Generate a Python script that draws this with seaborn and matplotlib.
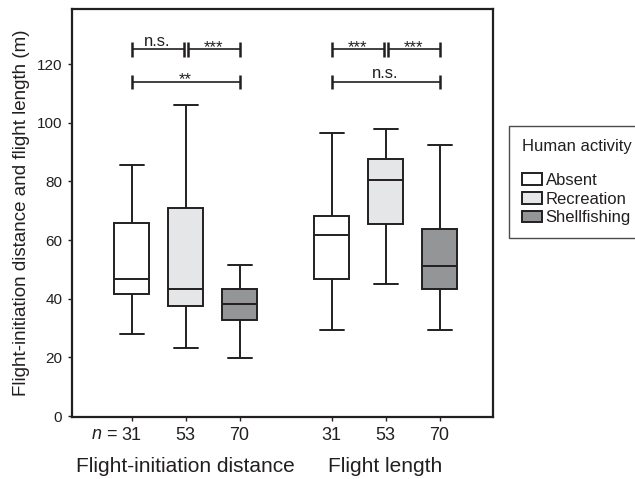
import numpy as np
import pandas as pd
import seaborn as sns
import matplotlib.pyplot as plt

# ---- data ----
measures = ['Flight-initiation distance', 'Flight length']
activities = ['Absent', 'Recreation', 'Shellfishing']
sample_sizes = [31, 53, 70]

# five-number summaries: whisker low, Q1, median, Q3, whisker high
fid_absent = [28.1, 41.8, 46.7, 65.9, 85.6]
fid_recreation = [23.3, 37.5, 43.4, 71.0, 106.0]
fid_shellfishing = [19.9, 32.7, 38.3, 43.3, 51.5]
fl_absent = [29.3, 46.8, 61.7, 68.2, 96.4]
fl_recreation = [45.1, 65.6, 80.5, 87.7, 98.0]
fl_shellfishing = [29.3, 43.4, 51.1, 63.9, 92.5]

# significance labels: (Absent-Recreation, Recreation-Shellfishing, Absent-Shellfishing)
fid_sig = ['n.s.', '***', '**']
fl_sig = ['***', '***', 'n.s.']
sig_rows = [125.0, 114.0]

summaries = [[fid_absent, fid_recreation, fid_shellfishing],
             [fl_absent, fl_recreation, fl_shellfishing]]
rows = []
for measure, groups in zip(measures, summaries):
    for activity, vals in zip(activities, groups):
        for v in vals:
            rows.append({'measure': measure, 'activity': activity, 'value': v})
df = pd.DataFrame(rows)

# ---- style ----
sns.set_style('ticks')
plt.rcParams['font.family'] = ['Liberation Sans', 'DejaVu Sans']
plt.rcParams['mathtext.fontset'] = 'custom'
plt.rcParams['mathtext.it'] = 'Liberation Sans:italic'
plt.rcParams['mathtext.rm'] = 'Liberation Sans'
dark = '#231f20'
plt.rcParams['text.color'] = dark
palette = {'Absent': '#ffffff', 'Recreation': '#e5e6e8', 'Shellfishing': '#939598'}

fig = plt.figure(figsize=(6.35, 4.79), dpi=100)
ax = fig.add_axes([0.1134, 0.1294, 0.663, 0.8518])

group_width = 0.81
sns.boxplot(data=df, x='measure', y='value', hue='activity',
            order=measures, hue_order=activities, palette=palette,
            width=group_width, gap=0.36, whis=(0, 100),
            linecolor=dark, linewidth=1.4, capwidths=0.12, ax=ax)

# box positions (category centre + dodge offset)
offsets = (np.arange(len(activities)) - 1) * group_width / len(activities)
positions = [c + o for c in range(len(measures)) for o in offsets]

ax.set_xlim(-0.5675, 1.5375)
ax.set_ylim(-0.3, 138.8)
ax.set_yticks(np.arange(0, 121, 20))
ax.set_xticks(positions)
ax.set_xticklabels([str(n) for n in sample_sizes] * 2, fontsize=13)
ax.tick_params(axis='y', labelsize=11)
ax.tick_params(direction='out', length=3, width=1, color=dark, labelcolor=dark, pad=4)
ax.set_xlabel('')
ax.set_ylabel('Flight-initiation distance and flight length (m)', fontsize=13.5, color=dark)
ax.yaxis.set_label_coords(-0.1, 0.5)
for sp in ax.spines.values():
    sp.set_visible(True)
    sp.set_color(dark)
    sp.set_linewidth(1.6)

# "n =" in front of the first sample size
ax.text(positions[0] - 0.07, -0.022, '$n$ =', transform=ax.get_xaxis_transform(),
        ha='right', va='top', fontsize=13)
# group labels
for i, m in enumerate(measures):
    ax.text(i, -0.1225, m, transform=ax.get_xaxis_transform(),
            ha='center', va='center', fontsize=15)

# significance brackets
def bracket(x0, x1, y, label):
    ax.plot([x0, x1], [y, y], color=dark, lw=1.2, solid_capstyle='butt')
    for x in (x0, x1):
        ax.plot([x, x], [y - 2.4, y + 2.4], color=dark, lw=1.8, solid_capstyle='butt')
    if label == 'n.s.':
        ax.text((x0 + x1) / 2, y + 1.3, label, ha='center', va='baseline', fontsize=12)
    else:
        ax.text((x0 + x1) / 2, y - 0.8, label, ha='center', va='baseline', fontsize=12)

split = 0.01
for g, sig in enumerate([fid_sig, fl_sig]):
    p0, p1, p2 = positions[3 * g:3 * g + 3]
    bracket(p0, p1 - split, sig_rows[0], sig[0])
    bracket(p1 + split, p2, sig_rows[0], sig[1])
    bracket(p0, p2, sig_rows[1], sig[2])

# legend
sns.move_legend(ax, 'upper left', bbox_to_anchor=(509 / 635, 1 - 126 / 479),
                bbox_transform=fig.transFigure, frameon=True, title='Human activity',
                fontsize=12, title_fontsize=12, handlelength=1.2, handleheight=0.72,
                handletextpad=0.25, labelspacing=0.22, borderpad=0.75, borderaxespad=0,
                fancybox=False, alignment='left')
leg = ax.get_legend()
leg._legend_box.sep = 14  # extra room under the title
leg.get_frame().set_edgecolor(dark)
leg.get_frame().set_linewidth(1.0)

fig.savefig('out.png', dpi=100)
